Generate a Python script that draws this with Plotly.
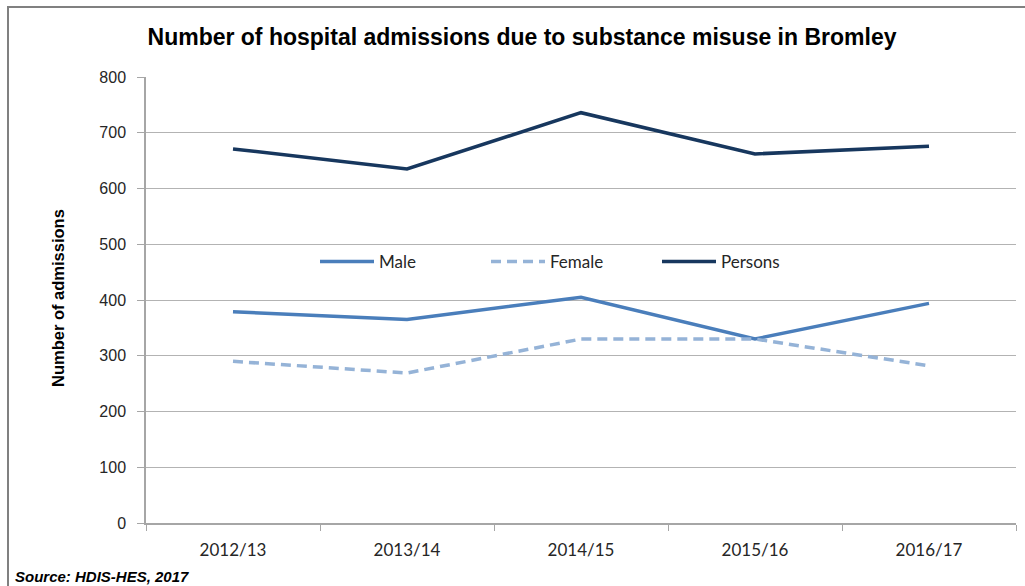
import plotly.graph_objects as go

years = ["2012/13", "2013/14", "2014/15", "2015/16", "2016/17"]
male = [379, 365, 405, 330, 394]
female = [290, 269, 330, 330, 282]
persons = [671, 635, 736, 662, 676]
y_ticks = [0, 100, 200, 300, 400, 500, 600, 700, 800]

W, H = 1025, 586
L, R, T, B = 146, 9, 77, 63
pw, ph = W - L - R, H - T - B

def px(x):
    return (x - L) / pw

def py(y):
    return (H - B - y) / ph

cal = "Lato, Carlito, Calibri, sans-serif"
narrow = "Liberation Sans Narrow, Arial Narrow, Liberation Sans, Arial, sans-serif"
arial = "Liberation Sans, Arial, sans-serif"

fig = go.Figure()
fig.add_trace(go.Scatter(x=years, y=male, name="Male", mode="lines",
                         line=dict(color="#4A7EBB", width=3.5)))
fig.add_trace(go.Scatter(x=years, y=female, name="Female", mode="lines",
                         line=dict(color="#95B3D7", width=3.5, dash="10px,6px")))
fig.add_trace(go.Scatter(x=years, y=persons, name="Persons", mode="lines",
                         line=dict(color="#17375E", width=3.5)))

frame = dict(color="#808080", width=2)

fig.update_layout(
    width=W, height=H, autosize=False,
    margin=dict(l=L, r=R, t=T, b=B),
    paper_bgcolor="white", plot_bgcolor="white",
    showlegend=True,
    legend=dict(orientation="h", x=px(315), y=py(262), xanchor="left", yanchor="middle",
                font=dict(family=cal, size=17, color="#262626"),
                bgcolor="rgba(0,0,0,0)", entrywidth=102, entrywidthmode="pixels",
                itemwidth=54),
    title=dict(text="<b>Number of hospital admissions due to substance misuse in Bromley</b>",
               x=522 / W, xref="container", xanchor="center",
               y=1 - 37 / H, yref="container", yanchor="middle",
               font=dict(family=narrow, size=23, color="black")),
    xaxis=dict(type="category", range=[-0.5, 4.5], showgrid=False,
               showline=True, linecolor="#a6a6a6", linewidth=1.5,
               ticks="outside", tickson="boundaries", ticklen=6, tickcolor="#a6a6a6",
               ticklabelstandoff=11,
               tickfont=dict(family=cal, size=17, color="#262626")),
    yaxis=dict(range=[0, 800], tickvals=y_ticks, showgrid=True, gridcolor="#b3b3b3",
               gridwidth=1.2, zeroline=False, showline=True, linecolor="#a6a6a6",
               linewidth=1.5, ticks="outside", ticklen=7, tickcolor="#a6a6a6",
               ticklabelstandoff=8,
               tickfont=dict(family=arial, size=16, color="#262626")),
    shapes=[
        dict(type="line", xref="paper", yref="paper", x0=px(8), x1=px(1040),
             y0=py(7), y1=py(7), line=frame, layer="above"),
        dict(type="line", xref="paper", yref="paper", x0=px(8), x1=px(8),
             y0=py(6), y1=py(600), line=frame, layer="above"),
    ],
    annotations=[
        dict(text="<b>Number of admissions</b>", textangle=-90, xref="paper", yref="paper",
             x=px(58), y=py(298), xanchor="center", yanchor="middle", showarrow=False,
             font=dict(family=arial, size=16.5, color="black")),
        dict(text="<b><i>Source: HDIS-HES, 2017</i></b>", xref="paper", yref="paper",
             x=px(13), y=py(576), xanchor="left", yanchor="middle", showarrow=False,
             font=dict(family=narrow, size=15, color="black")),
    ],
)

fig.write_html(
    "out.html",
    config={"responsive": False, "displayModeBar": False},
    post_script="document.body.style.margin='0';document.body.style.overflow='hidden';",
)
